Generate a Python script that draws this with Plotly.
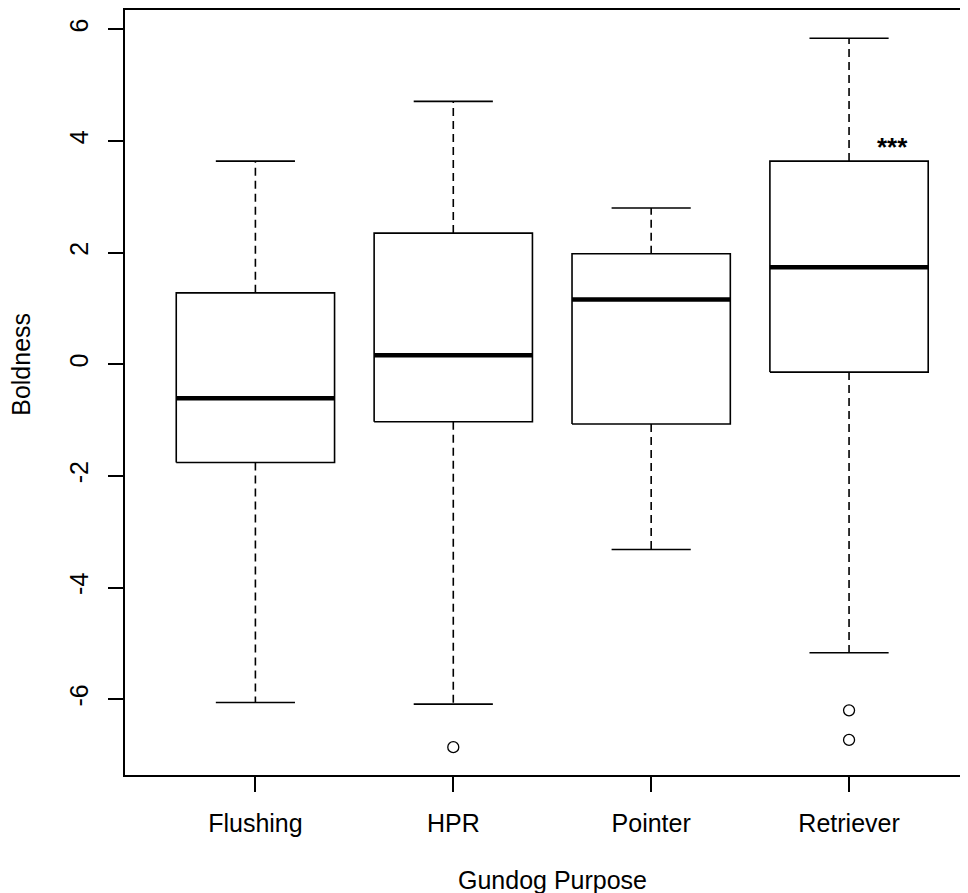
import plotly.graph_objects as go

categories = ["Flushing", "HPR", "Pointer", "Retriever"]
upper_whisker = [3.64, 4.71, 2.80, 5.84]
q3 = [1.28, 2.35, 1.98, 3.64]
median = [-0.61, 0.16, 1.16, 1.74]
q1 = [-1.76, -1.03, -1.07, -0.14]
lower_whisker = [-6.06, -6.09, -3.32, -5.17]
outliers = [[], [-6.86], [], [-6.20, -6.73]]
y_ticks = [-6, -4, -2, 0, 2, 4, 6]

BOX_HALF = 0.4
CAP_HALF = 0.2
FONT = "Liberation Sans, Arial, Helvetica, sans-serif"
FS = 25

fig = go.Figure()
for i, cat in enumerate(categories):
    x = i + 1
    fig.add_trace(go.Scatter(
        x=[x - BOX_HALF, x + BOX_HALF, x + BOX_HALF, x - BOX_HALF, x - BOX_HALF],
        y=[q1[i], q1[i], q3[i], q3[i], q1[i]],
        mode="lines", line=dict(color="black", width=1.6),
        showlegend=False, hoverinfo="skip"))
    fig.add_trace(go.Scatter(
        x=[x - BOX_HALF, x + BOX_HALF], y=[median[i], median[i]],
        mode="lines", line=dict(color="black", width=4.5),
        showlegend=False, hoverinfo="skip"))
    fig.add_trace(go.Scatter(
        x=[x, x, None, x, x],
        y=[q3[i], upper_whisker[i], None, q1[i], lower_whisker[i]],
        mode="lines", line=dict(color="black", width=1.6, dash="8px,5px"),
        showlegend=False, hoverinfo="skip"))
    fig.add_trace(go.Scatter(
        x=[x - CAP_HALF, x + CAP_HALF, None, x - CAP_HALF, x + CAP_HALF],
        y=[upper_whisker[i], upper_whisker[i], None, lower_whisker[i], lower_whisker[i]],
        mode="lines", line=dict(color="black", width=1.6),
        showlegend=False, hoverinfo="skip"))
    if outliers[i]:
        fig.add_trace(go.Scatter(
            x=[x] * len(outliers[i]), y=outliers[i], mode="markers",
            marker=dict(symbol="circle-open", size=11, color="black",
                        line=dict(width=1.3, color="black")),
            showlegend=False, hoverinfo="skip"))

# page offset of the plot div (browser body margin)
OFF = 8
W, H = 968 - OFF, 893 - OFF
# target screen positions of the plot area
L_s, T_s, B_s = 124.5, 9.5, 775
L, T, B = L_s - OFF, T_s - OFF, B_s - OFF
px_per_x = 198.0
x0 = 0.341
x1 = x0 + (W - L) / px_per_x
px_per_y = 55.85
y_zero_s = 364.0
y_top = (y_zero_s - T_s) / px_per_y
y_bot = (y_zero_s - B_s) / px_per_y

fig.add_annotation(x=4.22, y=3.92, xref="x", yref="y", text="<b>***</b>",
                   showarrow=False, font=dict(family=FONT, size=26, color="black"),
                   yanchor="middle", yshift=-2)
fig.add_annotation(x=2.5, y=0, xref="x", yref="paper", text="Gundog Purpose",
                   showarrow=False, font=dict(family=FONT, size=FS, color="black"),
                   yanchor="middle", yshift=-(880 - B_s))
fig.add_annotation(x=0, y=(B_s - y_zero_s) / (B_s - T_s), xref="paper", yref="paper",
                   text="Boldness", textangle=-90,
                   showarrow=False, font=dict(family=FONT, size=FS, color="black"),
                   xanchor="center", xshift=-(L_s - 21))

fig.update_layout(
    width=W, height=H,
    margin=dict(l=L, r=0, t=T, b=H - B, pad=0),
    paper_bgcolor="white", plot_bgcolor="white",
    font=dict(family=FONT, size=FS, color="black"),
    xaxis=dict(range=[x0, x1], tickvals=[1, 2, 3, 4], ticktext=categories,
               showgrid=False, zeroline=False, showline=True, linecolor="black",
               linewidth=1.6, mirror=True, ticks="outside", ticklen=15,
               tickwidth=1.6, tickcolor="black", ticklabelstandoff=10,
               tickfont=dict(family=FONT, size=FS, color="black")),
    yaxis=dict(range=[y_bot, y_top], tickvals=y_ticks,
               ticktext=[str(v) for v in y_ticks], tickangle=-90,
               showgrid=False, zeroline=False, showline=True, linecolor="black",
               linewidth=1.6, ticks="outside", ticklen=15, tickwidth=1.6,
               tickcolor="black", ticklabelstandoff=10,
               tickfont=dict(family=FONT, size=FS, color="black")),
)

fig.write_html("out.html")
